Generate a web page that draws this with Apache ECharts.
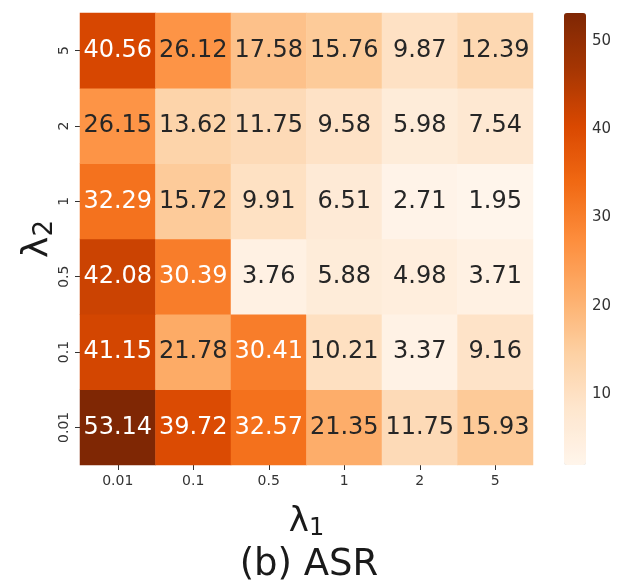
<!DOCTYPE html>
<html>
<head>
<meta charset="utf-8">
<script src="https://cdn.jsdelivr.net/npm/echarts@6/dist/echarts.min.js"></script>
<style>html,body{margin:0;padding:0;background:#fff;}#c{width:620px;height:583px;}</style>
</head>
<body>
<div id="c"></div>
<script>
// lambda1 (x) categories, lambda2 (y) categories bottom -> top
const lambda1 = ['0.01', '0.1', '0.5', '1', '2', '5'];
const lambda2 = ['0.01', '0.1', '0.5', '1', '2', '5'];
// ASR values, one row per lambda2 (bottom to top), columns follow lambda1
const row_001 = [53.14, 39.72, 32.57, 21.35, 11.75, 15.93];
const row_01  = [41.15, 21.78, 30.41, 10.21, 3.37, 9.16];
const row_05  = [42.08, 30.39, 3.76, 5.88, 4.98, 3.71];
const row_1   = [32.29, 15.72, 9.91, 6.51, 2.71, 1.95];
const row_2   = [26.15, 13.62, 11.75, 9.58, 5.98, 7.54];
const row_5   = [40.56, 26.12, 17.58, 15.76, 9.87, 12.39];
const colorbarTicks = [10, 20, 30, 40, 50];

const rows = [row_001, row_01, row_05, row_1, row_2, row_5];
const allVals = rows.flat();
const vmin = Math.min(...allVals);
const vmax = Math.max(...allVals);

const data = [];
rows.forEach((row, yi) => {
  row.forEach((v, xi) => {
    data.push({
      value: [xi, yi, v],
      label: { color: v > 28 ? '#ffffff' : '#262626' }
    });
  });
});

const FONT = 'DejaVu Sans';
const chart = echarts.init(document.getElementById('c'), null, { renderer: 'canvas' });
chart.setOption({
  backgroundColor: '#ffffff',
  animation: false,
  textStyle: { fontFamily: FONT },
  title: {
    text: '(b) ASR',
    left: 304,
    top: 542,
    textAlign: 'center',
    textStyle: { fontFamily: FONT, fontSize: 37, fontWeight: 'normal', color: '#1a1a1a' }
  },
  grid: [
    { left: 80, top: 13, width: 453, height: 452 },
    { left: 564, top: 13, width: 22, height: 452 }
  ],
  xAxis: [
    {
      gridIndex: 0,
      type: 'category',
      data: lambda1,
      position: 'bottom',
      axisLine: { show: false },
      axisTick: { show: true, alignWithLabel: true, length: 5, lineStyle: { color: '#333' } },
      axisLabel: { fontFamily: FONT, fontSize: 14, color: '#333', margin: 9 },
      splitLine: { show: false },
      name: '{l|λ}{s|1}',
      nameLocation: 'middle',
      nameGap: 38,
      nameTextStyle: {
        rich: {
          l: { fontFamily: FONT, fontSize: 34, color: '#1a1a1a' },
          s: { fontFamily: FONT, fontSize: 24, color: '#1a1a1a', padding: [14, 0, 0, 0] }
        }
      }
    },
    { gridIndex: 1, type: 'value', show: false, min: 0, max: 1 }
  ],
  yAxis: [
    {
      gridIndex: 0,
      type: 'category',
      data: lambda2,
      axisLine: { show: false },
      axisTick: { show: true, alignWithLabel: true, length: 5, lineStyle: { color: '#333' } },
      axisLabel: { fontFamily: FONT, fontSize: 14, color: '#333', rotate: 90, margin: 9 },
      splitLine: { show: false },
      name: '{l|λ}{s|2}',
      nameLocation: 'middle',
      nameRotate: 90,
      nameGap: 22,
      nameMoveOverlap: false,
      nameTextStyle: {
        rich: {
          l: { fontFamily: FONT, fontSize: 36, color: '#1a1a1a' },
          s: { fontFamily: FONT, fontSize: 26, color: '#1a1a1a', padding: [14, 0, 0, 0] }
        }
      }
    },
    {
      gridIndex: 1,
      type: 'value',
      min: vmin,
      max: vmax,
      position: 'right',
      axisLine: { show: false },
      splitLine: { show: false },
      axisTick: { show: true, length: 4, lineStyle: { color: '#333' }, customValues: colorbarTicks },
      axisLabel: { fontFamily: FONT, fontSize: 15, color: '#333', margin: 6, customValues: colorbarTicks }
    }
  ],
  visualMap: {
    type: 'continuous',
    seriesIndex: 0,
    min: vmin,
    max: vmax,
    calculable: false,
    orient: 'vertical',
    left: 564,
    top: 13,
    itemWidth: 22,
    itemHeight: 452,
    padding: 0,
    text: null,
    showLabel: false,
    hoverLink: false,
    inRange: {
      color: ['#fff5eb', '#fee6ce', '#fdd0a2', '#fdae6b', '#fd8d3c', '#f16913', '#d94801', '#a63603', '#7f2704']
    }
  },
  series: [
    {
      type: 'heatmap',
      xAxisIndex: 0,
      yAxisIndex: 0,
      data: data,
      label: {
        show: true,
        fontFamily: FONT,
        fontSize: 24,
        formatter: p => p.value[2].toFixed(2)
      },
      itemStyle: { borderWidth: 0 },
      emphasis: { disabled: true }
    },
    {
      type: 'scatter',
      xAxisIndex: 1,
      yAxisIndex: 1,
      data: [],
      silent: true
    }
  ]
});
</script>
</body>
</html>
